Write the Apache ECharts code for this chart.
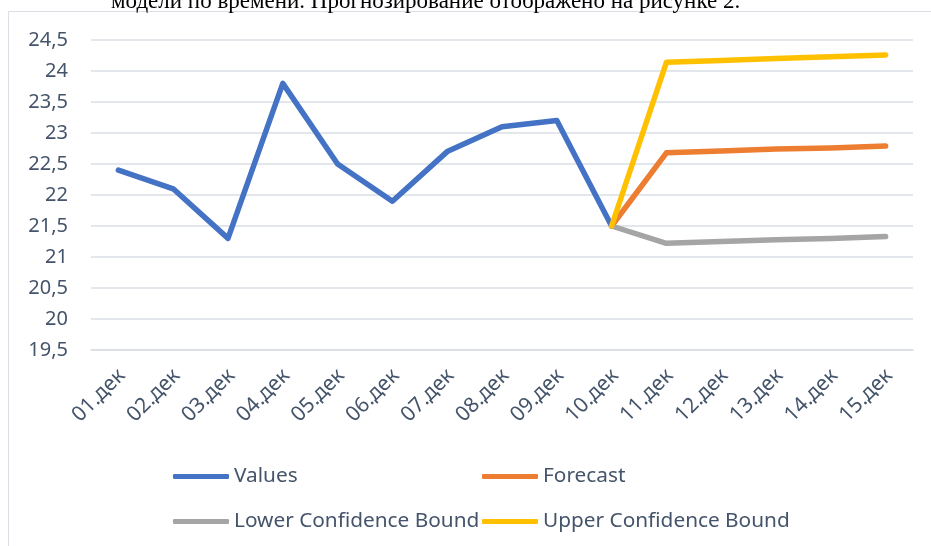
<!DOCTYPE html>
<html>
<head>
<meta charset="utf-8">
<script src="https://cdn.jsdelivr.net/npm/echarts@6/dist/echarts.min.js"></script>
<style>
  html, body { margin: 0; padding: 0; background: #fff; }
  #chart { width: 931px; height: 546px; }
</style>
</head>
<body>
<div id="chart"></div>
<script>
// данные графика
var days = ['01.дек', '02.дек', '03.дек', '04.дек', '05.дек', '06.дек', '07.дек', '08.дек',
            '09.дек', '10.дек', '11.дек', '12.дек', '13.дек', '14.дек', '15.дек'];
var values = [22.4, 22.1, 21.3, 23.8, 22.5, 21.9, 22.7, 23.1, 23.2, 21.5,
              null, null, null, null, null];
var forecast = [null, null, null, null, null, null, null, null, null, 21.5,
                22.68, 22.71, 22.74, 22.76, 22.79];
var lowerBound = [null, null, null, null, null, null, null, null, null, 21.5,
                  21.22, 21.25, 21.28, 21.30, 21.33];
var upperBound = [null, null, null, null, null, null, null, null, null, 21.5,
                  24.14, 24.17, 24.20, 24.23, 24.26];

var textColor = '#44546A';
var gridColor = '#dadee4';

function lineSeries(name, data, color) {
    return {
        name: name,
        type: 'line',
        data: data,
        symbol: 'none',
        connectNulls: false,
        lineStyle: { color: color, width: 5.5, cap: 'round', join: 'round' },
        itemStyle: { color: color }
    };
}

function legendItem(name, left, top) {
    return {
        data: [name],
        left: left,
        top: top,
        padding: 0,
        icon: 'roundRect',
        itemWidth: 56,
        itemHeight: 5,
        selectedMode: false,
        textStyle: { color: textColor, fontSize: 20.8, fontFamily: 'Noto Sans' }
    };
}

var option = {
    animation: false,
    backgroundColor: '#fff',
    grid: { left: 91, right: 18, top: 40, bottom: 196 },
    xAxis: {
        type: 'category',
        data: days,
        boundaryGap: true,
        axisLine: { lineStyle: { color: gridColor, width: 1.5 } },
        axisTick: { length: 6, lineStyle: { color: gridColor, width: 1.5 } },
        axisLabel: {
            rotate: 45,
            interval: 0,
            margin: 26,
            padding: [0, -5, 0, 0],
            color: textColor,
            fontSize: 21,
            fontFamily: 'Noto Sans'
        }
    },
    yAxis: {
        type: 'value',
        min: 19.5,
        max: 24.5,
        interval: 0.5,
        axisLine: { show: false },
        axisTick: { show: false },
        splitLine: { lineStyle: { color: gridColor, width: 1.5 } },
        axisLabel: {
            margin: 23,
            color: textColor,
            fontSize: 20,
            fontFamily: 'Noto Sans',
            formatter: function (v) { return String(v).replace('.', ','); }
        }
    },
    legend: [
        legendItem('Values', 173, 466),
        legendItem('Forecast', 482, 466),
        legendItem('Lower Confidence Bound', 173, 511),
        legendItem('Upper Confidence Bound', 482, 511)
    ],
    graphic: [
        {
            type: 'rect',
            shape: { x: 8.5, y: 11.5, width: 1000, height: 600 },
            style: { fill: null, stroke: gridColor, lineWidth: 1 },
            silent: true
        },
        {
            type: 'text',
            left: 111,
            top: -10,
            style: {
                text: 'модели по времени. Прогнозирование отображено на рисунке 2.',
                font: '23px "Liberation Serif"',
                fill: '#000'
            },
            silent: true
        }
    ],
    series: [
        lineSeries('Values', values, '#4472C4'),
        lineSeries('Forecast', forecast, '#ED7D31'),
        lineSeries('Lower Confidence Bound', lowerBound, '#A5A5A5'),
        lineSeries('Upper Confidence Bound', upperBound, '#FFC000')
    ]
};

var chart = echarts.init(document.getElementById('chart'));
chart.setOption(option);
</script>
</body>
</html>
